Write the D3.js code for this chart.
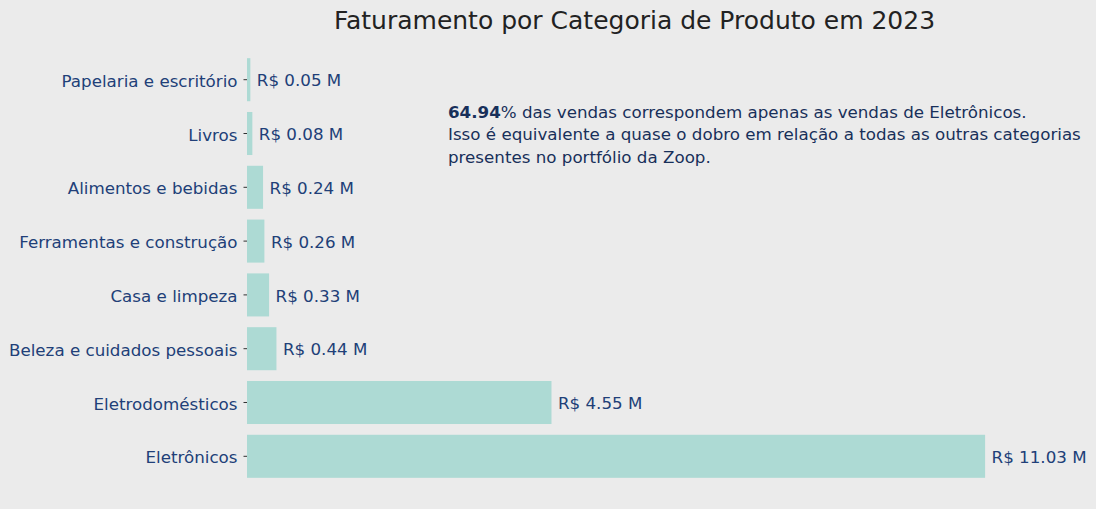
<!DOCTYPE html>
<html>
<head>
<meta charset="utf-8">
<script src="https://cdn.jsdelivr.net/npm/d3@7"></script>
<style>
  html, body { margin: 0; padding: 0; background: #ebebeb; }
  svg { display: block; }
  text { font-family: "DejaVu Sans", sans-serif; }
</style>
</head>
<body>
<svg id="chart" width="1096" height="509"></svg>
<script>
const categories = ["Papelaria e escritório", "Livros", "Alimentos e bebidas", "Ferramentas e construção", "Casa e limpeza", "Beleza e cuidados pessoais", "Eletrodomésticos", "Eletrônicos"];
const revenue = [0.05, 0.08, 0.24, 0.26, 0.33, 0.44, 4.55, 11.03];
const valueLabels = ["R$ 0.05 M", "R$ 0.08 M", "R$ 0.24 M", "R$ 0.26 M", "R$ 0.33 M", "R$ 0.44 M", "R$ 4.55 M", "R$ 11.03 M"];
const titleText = "Faturamento por Categoria de Produto em 2023";
const noteBold = "64.94";
const noteLines = ["% das vendas correspondem apenas as vendas de Eletrônicos.", "Isso é equivalente a quase o dobro em relação a todas as outras categorias", "presentes no portfólio da Zoop."];

(function () {
const W = 1096, H = 509;
const mLeft = 247, mRight = 1022, mTop = 37.2, mBottom = 498.8;
const barColor = "#addad4", labelColor = "#213f78", noteColor = "#18305a";
const fs = 16.7;

const svg = d3.select("#chart");
svg.append("rect").attr("width", W).attr("height", H).attr("fill", "#ebebeb");

const x = d3.scaleLinear().domain([0, d3.max(revenue) * 1.05]).range([mLeft, mRight]);
const y = d3.scaleBand().domain(categories)
  .range([mTop, mBottom]).paddingInner(0.2).paddingOuter(0.39);

const data = categories.map((c, i) => ({ c, v: revenue[i], l: valueLabels[i] }));

svg.append("g").selectAll("rect").data(data).join("rect")
  .attr("x", x(0)).attr("y", d => y(d.c))
  .attr("width", d => x(d.v) - x(0)).attr("height", y.bandwidth())
  .attr("fill", barColor);

const yAxis = d3.axisLeft(y).tickSize(3.5).tickPadding(6);
const gy = svg.append("g").attr("transform", `translate(${mLeft},0)`).call(yAxis);
gy.select(".domain").remove();
gy.selectAll(".tick line").attr("stroke", "#000").attr("stroke-width", 0.8);
gy.selectAll(".tick text").attr("fill", labelColor).attr("font-size", fs)
  .attr("font-family", "DejaVu Sans, sans-serif").attr("dy", "0.42em");

svg.append("g").selectAll("text").data(data).join("text")
  .attr("x", d => x(d.v) + 6.5).attr("y", d => y(d.c) + y.bandwidth() / 2)
  .attr("dy", "0.4em").attr("fill", labelColor).attr("font-size", fs)
  .text(d => d.l);

svg.append("text").attr("x", (mLeft + mRight) / 2).attr("y", 29)
  .attr("text-anchor", "middle").attr("font-size", 25).attr("fill", "#222222")
  .text(titleText);

const note = svg.append("text").attr("x", 448).attr("y", 117.5)
  .attr("font-size", fs).attr("fill", noteColor);
note.append("tspan").attr("font-weight", "bold").text(noteBold);
note.append("tspan").text(noteLines[0]);
noteLines.slice(1).forEach((t, i) => {
  svg.append("text").attr("x", 448).attr("y", 117.5 + 22.5 * (i + 1))
    .attr("font-size", fs).attr("fill", noteColor).text(t);
});
})();
</script>
</body>
</html>
